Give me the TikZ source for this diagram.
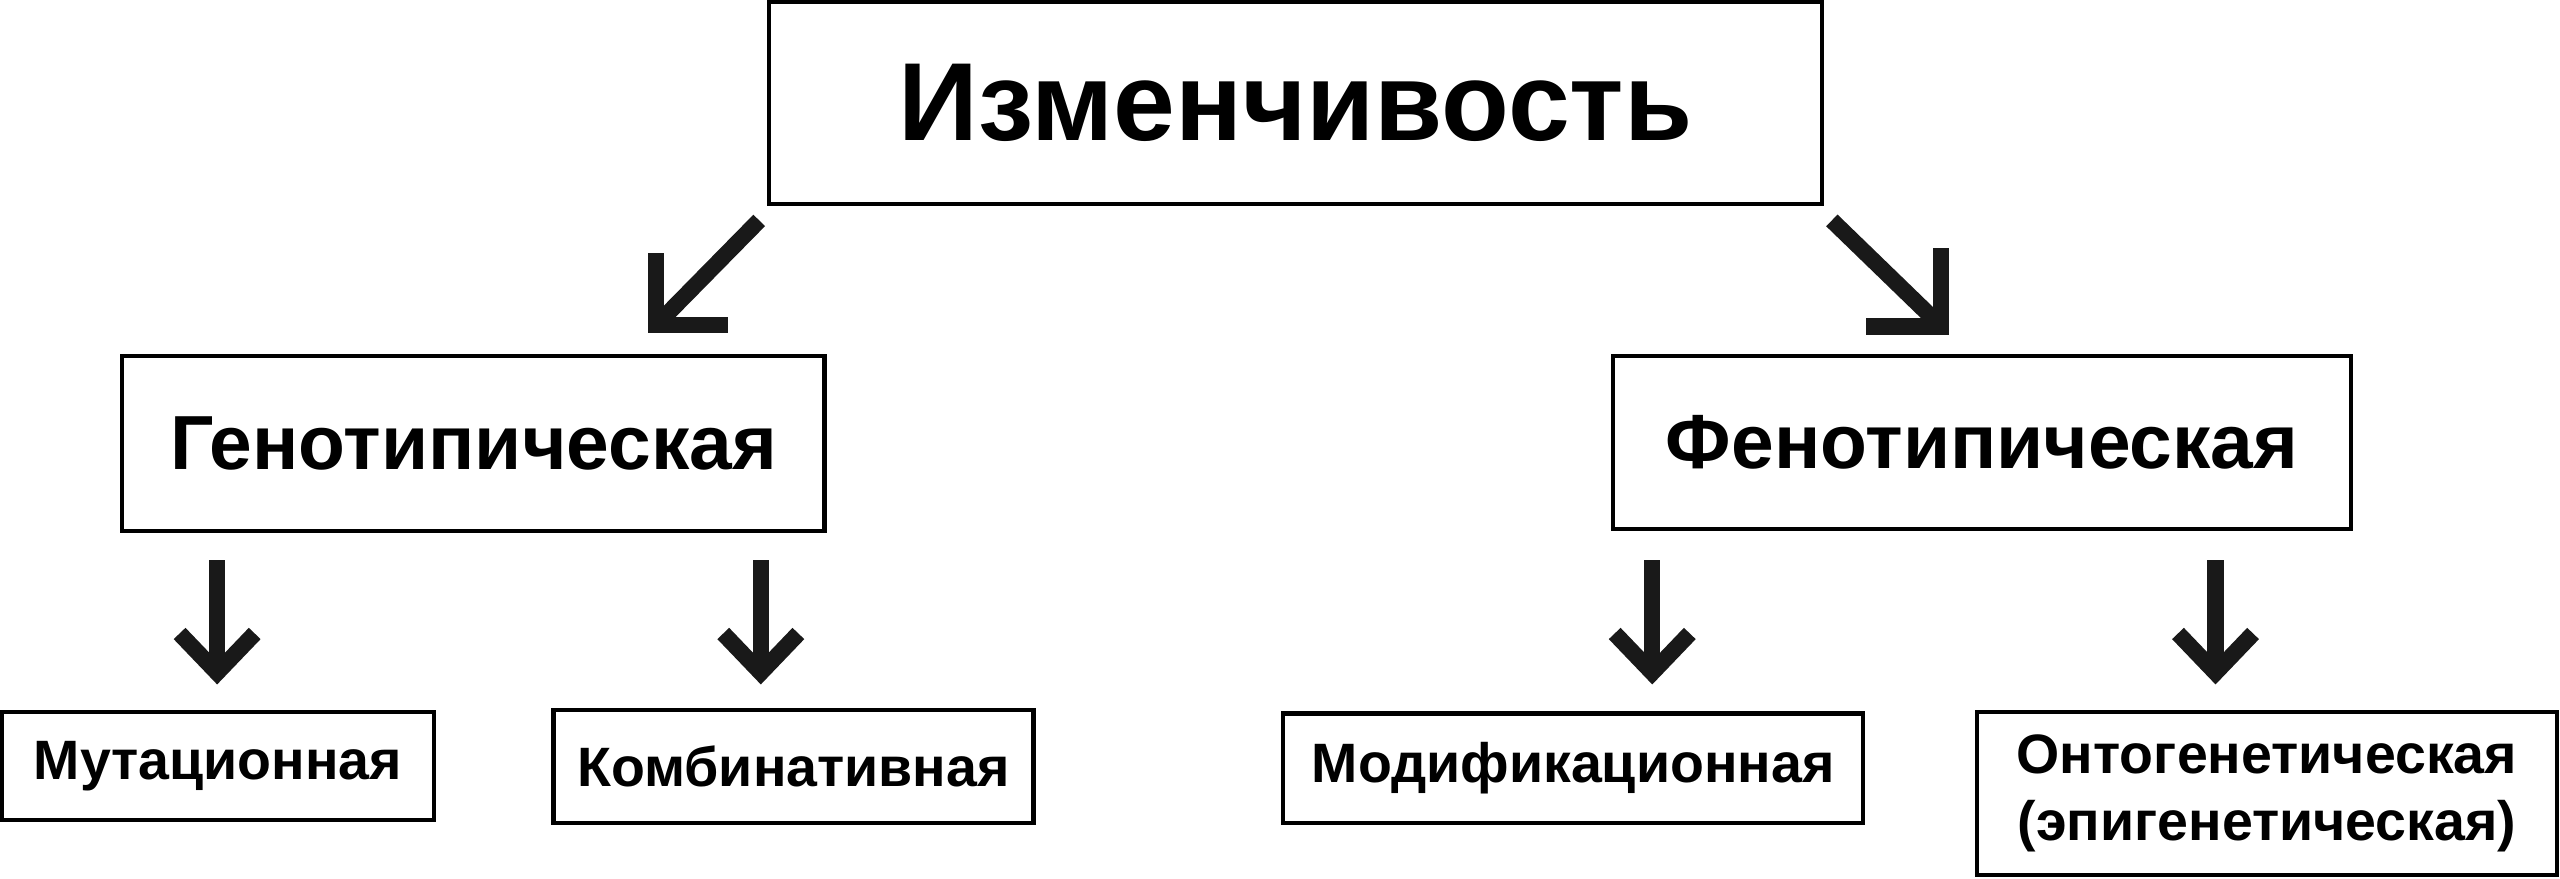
\documentclass[tikz,border=0pt]{standalone}
\usepackage{fontspec}
\setmainfont{Liberation Sans}
\begin{document}
\begin{tikzpicture}[x=1pt,y=-1pt,
  box/.style={draw,line width=2.5pt,inner sep=0pt,font=\bfseries},
  shaft/.style={line width=10pt,draw=black!90},
  chev/.style={line width=10pt,draw=black!90,miter limit=10}]
\useasboundingbox (0,0) rectangle (1568,538);
\node[box,minimum width=645,minimum height=124,font=\bfseries\fontsize{68}{70}\selectfont] (top) at (793.5,63) {Изменчивость};
\node[box,minimum width=430,minimum height=107,font=\bfseries\fontsize{47}{50}\selectfont] (gen) at (290,271.5) {Генотипическая};
\node[box,minimum width=452,minimum height=106,font=\bfseries\fontsize{47}{50}\selectfont] (phen) at (1214,271) {Фенотипическая};
\node[box,minimum width=265,minimum height=66,font=\bfseries\fontsize{34}{36}\selectfont] (mut) at (133.5,469) {Мутационная};
\node[box,minimum width=294,minimum height=69,font=\bfseries\fontsize{34}{36}\selectfont] (comb) at (486,469.5) {Комбинативная};
\node[box,minimum width=355,minimum height=67,font=\bfseries\fontsize{34}{36}\selectfont] (mod) at (963.5,470.5) {Модификационная};
\node[box,minimum width=355,minimum height=100,font=\bfseries\fontsize{34}{41}\selectfont,align=center] (ont) at (1388.5,486) {Онтогенетическая\\(эпигенетическая)};
% diagonal arrows
\coordinate (l1) at (465,135); \coordinate (l2) at (405,196);
\draw[shaft] (l1) -- (l2);
\draw[chev] (402,155) -- (402,199) -- (446,199);
\coordinate (r1) at (1122,135); \coordinate (r2) at (1186,197);
\draw[shaft] (r1) -- (r2);
\draw[chev] (1189,152) -- (1189,200) -- (1143,200);
% down arrows
\foreach \x/\n in {133/a,466/b,1012/c,1357/d}{
  \draw[shaft] (\x,343) -- (\x,414);
  \draw[chev] (\x-23,388) -- (\x,412) -- (\x+23,388);
}
\end{tikzpicture}
\end{document}
